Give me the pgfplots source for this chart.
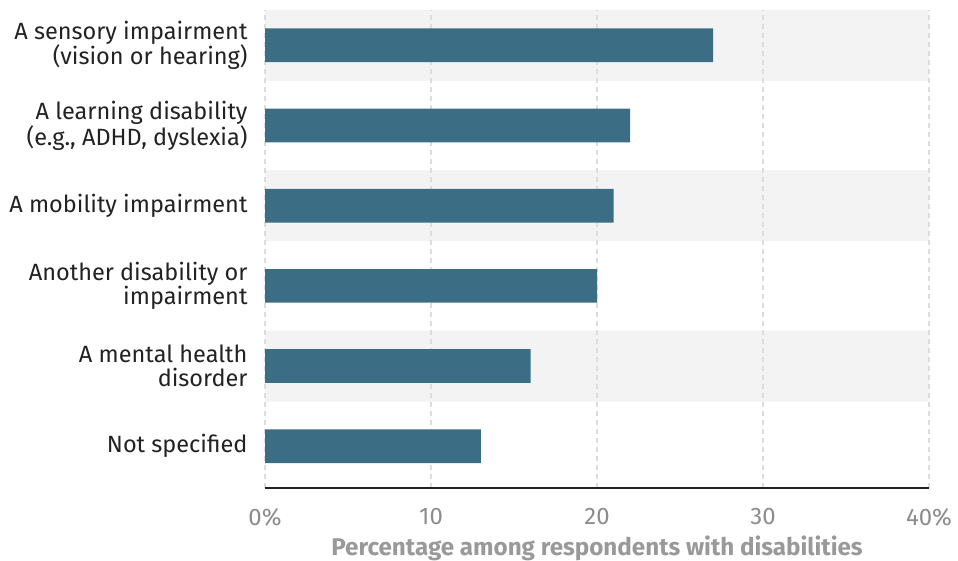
\documentclass[border=0pt]{standalone}
\usepackage{pgfplots}
\pgfplotsset{compat=1.18}
\usepackage{fontspec}
\setmainfont{Fira Sans}
\definecolor{barc}{HTML}{3B6E84}
\definecolor{bandc}{HTML}{F3F3F3}
\definecolor{gridc}{HTML}{DCDCDC}
\definecolor{tickc}{HTML}{8C8C8C}
\definecolor{labc}{HTML}{222222}
\definecolor{xlabc}{HTML}{999999}
\begin{document}
\begin{tikzpicture}
\begin{axis}[
  set layers=standard,
  at={(265bp,73bp)}, anchor=south west,
  scale only axis, width=664bp, height=478bp,
  xmin=0, xmax=40, ymin=-0.52, ymax=5.44,
  xtick={0,10,20,30,40}, xticklabels={0\%,10,20,30,40\%},
  ytick={0,1,2,3,4,5},
  yticklabels={Not specified,{A mental health\\disorder},{Another disability or\\impairment},A mobility impairment,{A learning disability\\(e.g., ADHD, dyslexia)},{A sensory impairment\\(vision or hearing)}},
  axis x line*=bottom, axis y line*=left,
  y axis line style={draw=none},
  x axis line style={-, draw=labc, line width=1.2bp},
  major tick length=0pt,
  xmajorgrids, ymajorgrids=false,
  grid style={gridc, line width=1.2bp, dash pattern=on 5bp off 4bp},
  xticklabel style={font=\fontsize{24}{24}\selectfont, text=tickc, anchor=center, yshift=-29bp},
  yticklabel style={font=\fontsize{23.6}{24}\selectfont, text=labc, align=right, anchor=east, xshift=-14bp},
  xlabel={Percentage among respondents with disabilities},
  xlabel style={font=\fontsize{24.3}{24}\selectfont\bfseries, text=xlabc, at={(axis description cs:0.5,0)}, anchor=center, yshift=-60bp},
]
\addplot[xbar, bar width=0.885, bar shift=0pt, fill=bandc, draw=none, on layer=axis background] coordinates {(40,5) (40,3) (40,1)};
\addplot[xbar, bar width=0.42, bar shift=0pt, fill=barc, draw=none] coordinates {(27,5) (22,4) (21,3) (20,2) (16,1) (13,0)};
\end{axis}
\pgfresetboundingbox
\path[use as bounding box] (0,0) rectangle (958bp,561bp);
\end{tikzpicture}
\end{document}
